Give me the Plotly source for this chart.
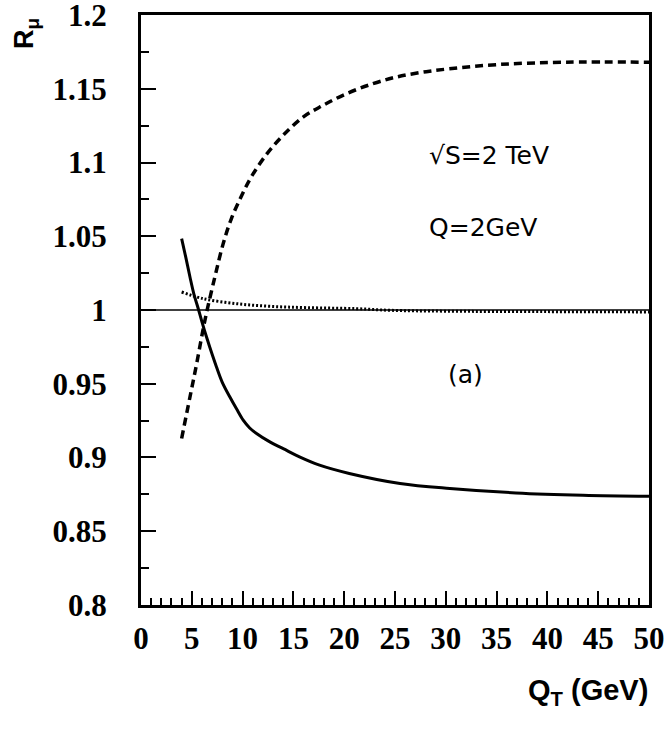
import plotly.graph_objects as go

# Solid curve
solid_x = [4.0, 4.4, 4.82, 5.2, 5.63, 6.0, 6.45, 7.0, 7.43, 8.0, 8.75, 9.4, 10.06, 10.7, 11.37, 12.68, 14.0, 15.6, 17.5, 20.5, 25.5, 30.4, 36.9, 43.5, 50.0]
solid_y = [1.0484, 1.036, 1.0224, 1.011, 1.001, 0.992, 0.9817, 0.970, 0.9614, 0.951, 0.941, 0.933, 0.9253, 0.920, 0.9163, 0.9106, 0.906, 0.9004, 0.895, 0.8892, 0.8824, 0.879, 0.876, 0.8744, 0.8737]

# Dashed curve
dashed_x = [4.0, 4.82, 5.48, 6.29, 7.27, 8.09, 8.9, 9.9, 10.88, 12.35, 13.98, 15.95, 17.9, 20.2, 22.8, 25.1, 27.5, 30.3, 35.3, 41.8, 50.0]
dashed_y = [0.9129, 0.941, 0.9637, 0.993, 1.0224, 1.045, 1.062, 1.0775, 1.0905, 1.1055, 1.1184, 1.1308, 1.1387, 1.1466, 1.1534, 1.1579, 1.161, 1.1635, 1.1665, 1.168, 1.168]

# Dotted curve
dotted_x = [4.0, 6.12, 9.4, 12.7, 16.3, 21.2, 24.5, 30.0, 40.0, 50.0]
dotted_y = [1.0122, 1.0077, 1.0043, 1.0025, 1.0016, 1.0009, 0.9998, 0.9992, 0.9989, 0.9987]

# Reference line
ref_x = [0, 50]
ref_y = [1.0, 1.0]

y_tickvals = [0.8, 0.85, 0.9, 0.95, 1.0, 1.05, 1.1, 1.15, 1.2]
y_ticktext = ["0.8", "0.85", "0.9", "0.95", "1", "1.05", "1.1", "1.15", "1.2"]
x_tickvals = [0, 5, 10, 15, 20, 25, 30, 35, 40, 45, 50]
x_ticktext = ["0", "5", "10", "15", "20", "25", "30", "35", "40", "45", "50"]

fig = go.Figure()
fig.add_trace(go.Scatter(x=ref_x, y=ref_y, mode="lines",
                         line=dict(color="black", width=1.5), showlegend=False))
fig.add_trace(go.Scatter(x=dotted_x, y=dotted_y, mode="lines", line_shape="spline",
                         line=dict(color="black", width=3, dash="2px,2px"), showlegend=False))
fig.add_trace(go.Scatter(x=dashed_x, y=dashed_y, mode="lines", line_shape="spline",
                         line=dict(color="black", width=3.5, dash="8px,5px"), showlegend=False))
fig.add_trace(go.Scatter(x=solid_x, y=solid_y, mode="lines", line_shape="spline",
                         line=dict(color="black", width=3), showlegend=False))

tickfont = dict(family="Liberation Serif", size=31, color="black")

fig.update_xaxes(range=[-0.0001, 50.0001], showgrid=False, zeroline=False,
                 showline=True, linecolor="black", linewidth=3, mirror=True,
                 ticks="inside", ticklen=14, tickwidth=2, tickcolor="black",
                 tickvals=x_tickvals, ticktext=["<b>" + t + "</b>" for t in x_ticktext],
                 tickfont=tickfont, ticklabelstandoff=4, ticklabeloverflow="allow",
                 automargin=False,
                 minor=dict(ticks="inside", ticklen=7, tickwidth=1.5, tickcolor="black", dtick=1))
fig.update_yaxes(range=[0.79999, 1.20001], showgrid=False, zeroline=False,
                 showline=True, linecolor="black", linewidth=3, mirror=True,
                 ticks="inside", ticklen=15, tickwidth=2, tickcolor="black",
                 tickvals=y_tickvals, ticktext=["<b>" + t + "</b>" for t in y_ticktext],
                 tickfont=tickfont, ticklabelstandoff=25, ticklabeloverflow="allow",
                 automargin=False,
                 minor=dict(ticks="inside", ticklen=8, tickwidth=1.5, tickcolor="black", dtick=0.025))

L, R, T, B = 141, 17, 15, 125
plot_w = 666 - L - R
plot_h = 730 - T - B

fig.update_layout(
    width=666, height=730,
    margin=dict(l=L, r=R, t=T, b=B, autoexpand=False),
    plot_bgcolor="white", paper_bgcolor="white",
    font=dict(family="Liberation Serif", color="black"),
    annotations=[
        dict(x=28.1, y=1.105, xref="x", yref="y", text="√S=2 TeV", showarrow=False,
             xanchor="left", yanchor="middle", font=dict(family="DejaVu Sans", size=25, color="black")),
        dict(x=28.1, y=1.056, xref="x", yref="y", text="Q=2GeV", showarrow=False,
             xanchor="left", yanchor="middle", font=dict(family="DejaVu Sans", size=25, color="black")),
        dict(x=31.9, y=0.9565, xref="x", yref="y", text="(a)", showarrow=False,
             xanchor="center", yanchor="middle", font=dict(family="DejaVu Sans", size=25, color="black")),
        dict(x=(26 - L) / plot_w, y=(730 - B - 34) / plot_h, xref="paper", yref="paper",
             text="<b>R<sub>μ</sub></b>", showarrow=False, textangle=-90,
             xanchor="center", yanchor="middle",
             font=dict(family="Liberation Sans", size=27, color="black")),
        dict(x=(650 - L) / plot_w, y=(730 - B - 692) / plot_h, xref="paper", yref="paper",
             text="<b>Q<sub>T</sub> (GeV)</b>", showarrow=False,
             xanchor="right", yanchor="middle",
             font=dict(family="Liberation Sans", size=29, color="black")),
    ],
)

fig.write_html("out.html", config={"displayModeBar": False},
               post_script="document.body.style.margin='0';document.body.style.overflow='hidden';")
